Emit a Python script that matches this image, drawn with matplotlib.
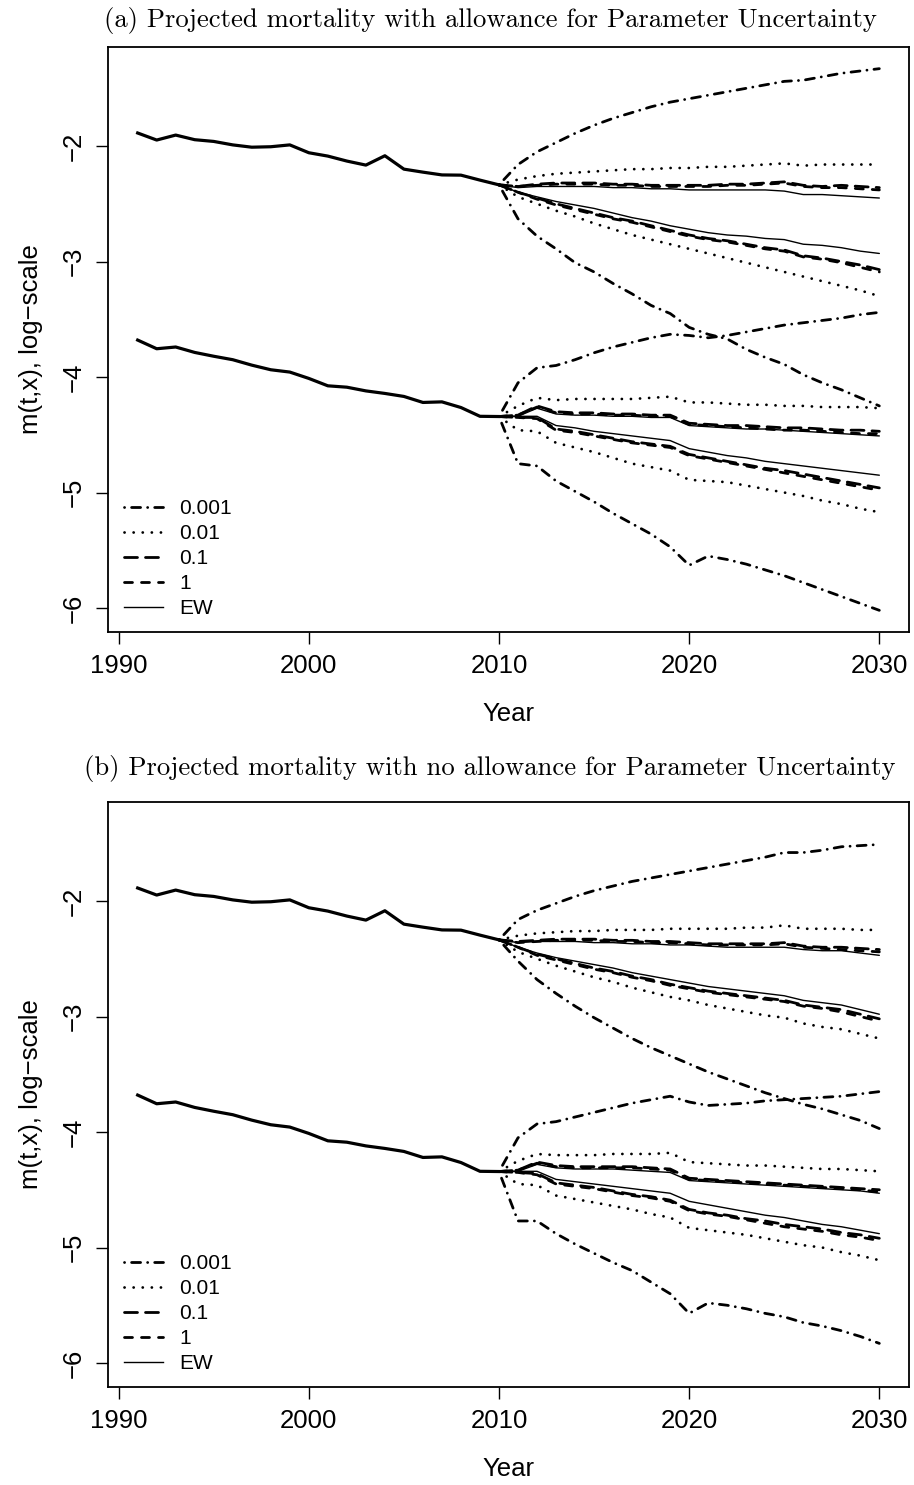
import numpy as np
import matplotlib
matplotlib.use('Agg')
import matplotlib.pyplot as plt
from matplotlib.lines import Line2D

matplotlib.rcParams['lines.scale_dashes'] = False
matplotlib.rcParams['font.family'] = 'Liberation Sans'

# ---------------------------------------------------------------- data
years_hist = list(range(1991, 2011))
years_proj = list(range(2010, 2031))

hist_old = [-1.887, -1.948, -1.905, -1.945, -1.96, -1.99, -2.01, -2.006, -1.99, -2.058,
            -2.087, -2.13, -2.165, -2.084, -2.20, -2.226, -2.25, -2.252, -2.295, -2.336]
hist_young = [-3.68, -3.755, -3.74, -3.787, -3.82, -3.85, -3.897, -3.937, -3.957, -4.012,
              -4.076, -4.088, -4.12, -4.142, -4.168, -4.22, -4.215, -4.264, -4.34, -4.342]

levels = ['0.001', '0.01', '0.1', '1', 'EW']

# panel (a): with parameter uncertainty, 2011..2030
a_old_up = {
    '0.001': [-2.16, -2.05, -1.97, -1.89, -1.82, -1.76, -1.71, -1.66, -1.62, -1.59,
              -1.56, -1.53, -1.50, -1.47, -1.44, -1.43, -1.40, -1.37, -1.35, -1.33],
    '0.01': [-2.29, -2.26, -2.24, -2.23, -2.22, -2.21, -2.20, -2.20, -2.19, -2.19,
             -2.18, -2.18, -2.17, -2.16, -2.15, -2.17, -2.16, -2.16, -2.16, -2.16],
    '0.1': [-2.35, -2.33, -2.32, -2.32, -2.32, -2.33, -2.33, -2.34, -2.34, -2.34,
            -2.34, -2.33, -2.33, -2.32, -2.31, -2.34, -2.35, -2.34, -2.35, -2.36],
    '1': [-2.35, -2.34, -2.33, -2.33, -2.33, -2.34, -2.34, -2.35, -2.35, -2.35,
          -2.35, -2.34, -2.34, -2.33, -2.32, -2.35, -2.36, -2.36, -2.37, -2.38],
    'EW': [-2.36, -2.35, -2.35, -2.35, -2.35, -2.36, -2.36, -2.37, -2.37, -2.38,
           -2.38, -2.38, -2.38, -2.38, -2.39, -2.42, -2.42, -2.43, -2.44, -2.45],
}
a_old_lo = {
    '0.001': [-2.63, -2.78, -2.89, -3.01, -3.09, -3.19, -3.28, -3.38, -3.45, -3.57,
              -3.63, -3.67, -3.76, -3.83, -3.89, -3.98, -4.05, -4.11, -4.18, -4.25],
    '0.01': [-2.44, -2.50, -2.56, -2.61, -2.67, -2.72, -2.77, -2.81, -2.85, -2.89,
             -2.93, -2.97, -3.01, -3.05, -3.09, -3.13, -3.17, -3.21, -3.25, -3.30],
    '0.1': [-2.40, -2.45, -2.50, -2.54, -2.58, -2.62, -2.65, -2.69, -2.73, -2.77,
            -2.80, -2.82, -2.85, -2.88, -2.90, -2.95, -2.97, -3.00, -3.03, -3.07],
    '1': [-2.40, -2.46, -2.51, -2.55, -2.59, -2.63, -2.66, -2.70, -2.74, -2.78,
          -2.81, -2.83, -2.86, -2.89, -2.91, -2.96, -2.98, -3.01, -3.05, -3.09],
    'EW': [-2.40, -2.44, -2.48, -2.51, -2.54, -2.58, -2.62, -2.65, -2.69, -2.72,
           -2.75, -2.77, -2.78, -2.80, -2.81, -2.85, -2.86, -2.88, -2.91, -2.93],
}
a_young_up = {
    '0.001': [-4.05, -3.92, -3.90, -3.85, -3.79, -3.74, -3.70, -3.66, -3.63, -3.64,
              -3.66, -3.64, -3.61, -3.58, -3.55, -3.53, -3.51, -3.49, -3.46, -3.44],
    '0.01': [-4.25, -4.18, -4.20, -4.19, -4.19, -4.19, -4.19, -4.18, -4.17, -4.22,
             -4.22, -4.23, -4.24, -4.24, -4.25, -4.25, -4.26, -4.26, -4.26, -4.27],
    '0.1': [-4.33, -4.25, -4.30, -4.31, -4.31, -4.32, -4.32, -4.33, -4.33, -4.40,
            -4.41, -4.42, -4.42, -4.43, -4.44, -4.44, -4.45, -4.46, -4.46, -4.47],
    '1': [-4.33, -4.26, -4.31, -4.32, -4.32, -4.33, -4.33, -4.34, -4.34, -4.41,
          -4.42, -4.43, -4.44, -4.45, -4.46, -4.46, -4.47, -4.48, -4.49, -4.49],
    'EW': [-4.34, -4.27, -4.32, -4.33, -4.33, -4.34, -4.34, -4.35, -4.35, -4.42,
           -4.43, -4.44, -4.45, -4.45, -4.46, -4.47, -4.48, -4.49, -4.50, -4.51],
}
a_young_lo = {
    '0.001': [-4.75, -4.77, -4.90, -4.99, -5.08, -5.18, -5.27, -5.36, -5.47, -5.63,
              -5.55, -5.58, -5.62, -5.67, -5.72, -5.78, -5.84, -5.90, -5.96, -6.02],
    '0.01': [-4.46, -4.47, -4.57, -4.61, -4.65, -4.70, -4.75, -4.78, -4.81, -4.89,
             -4.90, -4.91, -4.94, -4.97, -5.00, -5.03, -5.07, -5.10, -5.14, -5.17],
    '0.1': [-4.35, -4.35, -4.45, -4.47, -4.50, -4.53, -4.56, -4.58, -4.60, -4.67,
            -4.70, -4.73, -4.76, -4.79, -4.81, -4.84, -4.87, -4.90, -4.93, -4.96],
    '1': [-4.35, -4.36, -4.46, -4.48, -4.51, -4.54, -4.57, -4.59, -4.61, -4.68,
          -4.71, -4.74, -4.77, -4.80, -4.83, -4.86, -4.89, -4.92, -4.95, -4.98],
    'EW': [-4.34, -4.34, -4.42, -4.44, -4.47, -4.49, -4.51, -4.53, -4.55, -4.62,
           -4.65, -4.68, -4.70, -4.73, -4.75, -4.77, -4.79, -4.81, -4.83, -4.85],
}

# panel (b): no parameter uncertainty, 2011..2030
b_old_up = {
    '0.001': [-2.16, -2.08, -2.02, -1.96, -1.91, -1.87, -1.83, -1.80, -1.77, -1.74,
              -1.71, -1.68, -1.65, -1.62, -1.58, -1.58, -1.56, -1.53, -1.52, -1.51],
    '0.01': [-2.30, -2.28, -2.27, -2.26, -2.26, -2.25, -2.25, -2.25, -2.24, -2.24,
             -2.24, -2.24, -2.23, -2.23, -2.21, -2.24, -2.24, -2.24, -2.25, -2.25],
    '0.1': [-2.35, -2.34, -2.33, -2.33, -2.33, -2.34, -2.34, -2.35, -2.35, -2.36,
            -2.37, -2.37, -2.37, -2.37, -2.36, -2.39, -2.40, -2.40, -2.41, -2.42],
    '1': [-2.36, -2.35, -2.34, -2.34, -2.34, -2.35, -2.35, -2.36, -2.36, -2.37,
          -2.38, -2.38, -2.38, -2.38, -2.37, -2.40, -2.41, -2.42, -2.43, -2.44],
    'EW': [-2.36, -2.35, -2.35, -2.35, -2.36, -2.36, -2.37, -2.37, -2.38, -2.38,
           -2.39, -2.40, -2.40, -2.40, -2.40, -2.42, -2.43, -2.43, -2.45, -2.47],
}
b_old_lo = {
    '0.001': [-2.52, -2.68, -2.80, -2.91, -3.01, -3.10, -3.19, -3.27, -3.34, -3.41,
              -3.48, -3.54, -3.60, -3.66, -3.71, -3.76, -3.80, -3.85, -3.90, -3.97],
    '0.01': [-2.44, -2.50, -2.56, -2.61, -2.66, -2.70, -2.75, -2.79, -2.83, -2.86,
             -2.90, -2.93, -2.96, -2.99, -3.01, -3.06, -3.09, -3.11, -3.15, -3.19],
    '0.1': [-2.40, -2.46, -2.50, -2.54, -2.58, -2.61, -2.65, -2.68, -2.72, -2.75,
            -2.78, -2.80, -2.82, -2.84, -2.86, -2.90, -2.92, -2.94, -2.98, -3.02],
    '1': [-2.40, -2.47, -2.51, -2.55, -2.59, -2.62, -2.66, -2.69, -2.73, -2.76,
          -2.79, -2.81, -2.83, -2.85, -2.87, -2.91, -2.93, -2.96, -3.00, -3.04],
    'EW': [-2.40, -2.45, -2.49, -2.52, -2.55, -2.58, -2.62, -2.65, -2.68, -2.71,
           -2.74, -2.76, -2.78, -2.80, -2.82, -2.86, -2.88, -2.90, -2.94, -2.98],
}
b_young_up = {
    '0.001': [-4.05, -3.93, -3.91, -3.87, -3.83, -3.79, -3.75, -3.72, -3.69, -3.74,
              -3.77, -3.76, -3.75, -3.73, -3.72, -3.71, -3.70, -3.69, -3.67, -3.65],
    '0.01': [-4.25, -4.19, -4.20, -4.20, -4.20, -4.19, -4.19, -4.19, -4.18, -4.26,
             -4.27, -4.28, -4.29, -4.29, -4.30, -4.31, -4.32, -4.32, -4.33, -4.34],
    '0.1': [-4.33, -4.26, -4.29, -4.30, -4.30, -4.30, -4.30, -4.31, -4.32, -4.40,
            -4.41, -4.42, -4.43, -4.44, -4.45, -4.46, -4.47, -4.48, -4.49, -4.50],
    '1': [-4.33, -4.27, -4.30, -4.31, -4.31, -4.31, -4.31, -4.32, -4.33, -4.41,
          -4.42, -4.43, -4.44, -4.45, -4.46, -4.47, -4.48, -4.49, -4.50, -4.52],
    'EW': [-4.34, -4.28, -4.31, -4.32, -4.32, -4.32, -4.33, -4.34, -4.35, -4.42,
           -4.43, -4.44, -4.45, -4.46, -4.47, -4.48, -4.49, -4.50, -4.51, -4.53],
}
b_young_lo = {
    '0.001': [-4.77, -4.77, -4.88, -4.97, -5.05, -5.13, -5.20, -5.30, -5.40, -5.57,
              -5.48, -5.50, -5.53, -5.57, -5.60, -5.65, -5.68, -5.72, -5.77, -5.83],
    '0.01': [-4.45, -4.46, -4.55, -4.58, -4.61, -4.64, -4.67, -4.71, -4.74, -4.83,
             -4.85, -4.87, -4.89, -4.92, -4.95, -4.98, -5.00, -5.04, -5.07, -5.11],
    '0.1': [-4.35, -4.36, -4.44, -4.46, -4.48, -4.51, -4.54, -4.56, -4.59, -4.67,
            -4.70, -4.72, -4.75, -4.77, -4.80, -4.82, -4.84, -4.87, -4.89, -4.92],
    '1': [-4.35, -4.37, -4.45, -4.47, -4.49, -4.52, -4.55, -4.57, -4.60, -4.68,
          -4.71, -4.73, -4.76, -4.79, -4.82, -4.84, -4.86, -4.89, -4.91, -4.94],
    'EW': [-4.34, -4.34, -4.41, -4.43, -4.45, -4.47, -4.49, -4.51, -4.53, -4.60,
           -4.63, -4.66, -4.69, -4.72, -4.74, -4.77, -4.80, -4.82, -4.85, -4.88],
}

titles = ['(a) Projected mortality with allowance for Parameter Uncertainty',
          '(b) Projected mortality with no allowance for Parameter Uncertainty']
xticks = [1990, 2000, 2010, 2020, 2030]
yticks = [-6, -5, -4, -3, -2]
ytick_labels = ['\u22126', '\u22125', '\u22124', '\u22123', '\u22122']

# ---------------------------------------------------------------- styles (R lty in px)
PX = 0.72  # points per pixel at dpi 100
styles = {
    '0.001': dict(lw=2.0, dashes=(0.1 * PX, 7 * PX, 9 * PX, 7 * PX)),
    '0.01': dict(lw=2.0, dashes=(0.1 * PX, 9 * PX)),
    '0.1': dict(lw=2.0, dashes=(13 * PX, 8 * PX)),
    '1': dict(lw=2.0, dashes=(8 * PX, 9 * PX)),
    'EW': dict(lw=1.0, dashes=None),
}


def draw_line(ax, x, y, level):
    st = styles[level]
    ln, = ax.plot(x, y, color='black', lw=st['lw'], solid_capstyle='round',
                  dash_capstyle='round', solid_joinstyle='round')
    if st['dashes'] is not None:
        ln.set_dashes(st['dashes'])
    return ln


W, H = 914, 1485
fig = plt.figure(figsize=(W / 100, H / 100), dpi=100)

panels = [
    (a_old_up, a_old_lo, a_young_up, a_young_lo, 47, 632, 20),
    (b_old_up, b_old_lo, b_young_up, b_young_lo, 802, 1387, 768),
]

# common y-range for both panels (R: range of all series, 4% extension)
allvals = list(hist_old) + list(hist_young)
for p in panels:
    for grp in p[:4]:
        for lev in levels:
            allvals += grp[lev]
x0, x1 = min(years_hist), max(years_proj)
y0, y1 = min(allvals), max(allvals)

for k, (old_up, old_lo, yg_up, yg_lo, top, bot, ttl_y) in enumerate(panels):
    left, right = 108, 909
    ax = fig.add_axes([left / W, 1 - bot / H, (right - left) / W, (bot - top) / H])

    ax.plot(years_hist, hist_old, color='black', lw=2.3, solid_joinstyle='round')
    ax.plot(years_hist, hist_young, color='black', lw=2.3, solid_joinstyle='round')

    for start, group in [(hist_old[-1], old_up), (hist_old[-1], old_lo),
                         (hist_young[-1], yg_up), (hist_young[-1], yg_lo)]:
        for lev in levels:
            draw_line(ax, years_proj, [start] + group[lev], lev)

    ax.set_xlim(x0 - 0.04 * (x1 - x0), x1 + 0.04 * (x1 - x0))
    ax.set_ylim(y0 - 0.04 * (y1 - y0), y1 + 0.04 * (y1 - y0))

    ax.set_xticks(xticks)
    ax.set_xticklabels([str(v) for v in xticks], fontsize=18.5)
    ax.set_yticks(yticks)
    ax.set_yticklabels(ytick_labels, fontsize=18.5, rotation=90, va='center')
    ax.tick_params(direction='out', length=12 * PX, width=1.0, pad=10 * PX)
    for sp in ax.spines.values():
        sp.set_linewidth(1.3)

    ax.set_xlabel('Year', fontsize=18.5, labelpad=17)
    ax.set_ylabel('m(t,x), log\u2212scale', fontsize=18.5, labelpad=14)
    fig.text(490 / W, 1 - ttl_y / H, titles[k], fontsize=19.2, family='cmr10',
             ha='center', va='center')

    handles = [Line2D([], [], color='black', lw=styles[l]['lw'],
                      dashes=styles[l]['dashes'] if styles[l]['dashes'] else (None, None),
                      dash_capstyle='round')
               for l in levels]
    ax.legend(handles, levels, loc='lower left', frameon=False, fontsize=15,
              handlelength=1.85, handletextpad=0.8, labelspacing=0.28,
              borderaxespad=0.0, bbox_to_anchor=(0.01, 0.01))

plt.savefig('out.png', dpi=100)
plt.close()
